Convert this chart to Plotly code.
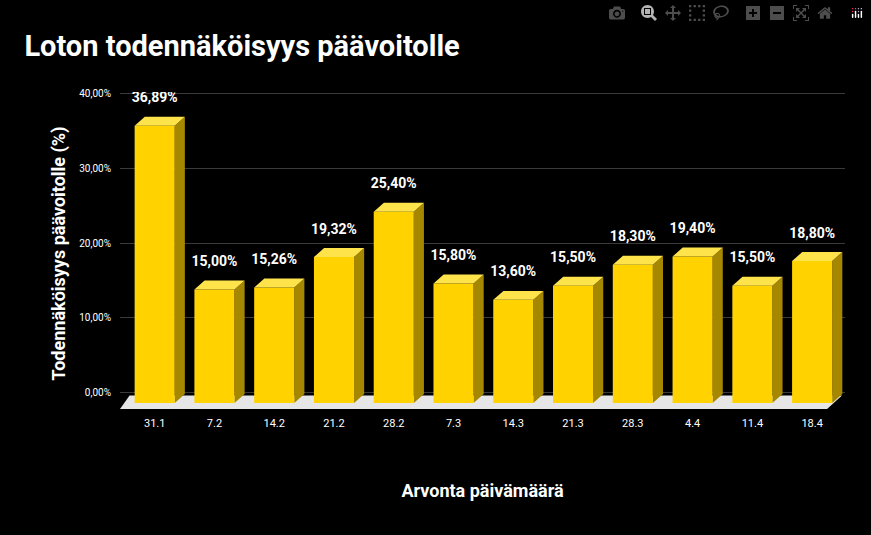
import plotly.graph_objects as go

dates = ["31.1", "7.2", "14.2", "21.2", "28.2", "7.3", "14.3", "21.3", "28.3", "4.4", "11.4", "18.4"]
values = [36.89, 15.00, 15.26, 19.32, 25.40, 15.80, 13.60, 15.50, 18.30, 19.40, 15.50, 18.80]
yticks = [0, 10, 20, 30, 40]
ytick_labels = ["0,00%", "10,00%", "20,00%", "30,00%", "40,00%"]

W = 0.67      # front face width
DX = 0.17     # depth offset in x
DY = 1.2      # depth offset in y
BASE = -1.4   # front bottom

def polys(pts_list):
    xs, ys = [], []
    for pts in pts_list:
        for px, py in pts + [pts[0]]:
            xs.append(px)
            ys.append(py)
        xs.append(None)
        ys.append(None)
    return xs, ys

fronts, sides, tops = [], [], []
for i, v in enumerate(values):
    l, r = i - W / 2, i + W / 2
    t = v - DY
    fronts.append([(l, BASE), (r, BASE), (r, t), (l, t)])
    sides.append([(r, BASE), (r, t), (r + DX, t + DY), (r + DX, BASE + DY)])
    tops.append([(l, t), (r, t), (r + DX, t + DY), (l + DX, t + DY)])

fig = go.Figure()

# floor
fx, fy = polys([[(-0.58, -2.2), (11.25, -2.2), (11.5, -0.4), (-0.42, -0.4)]])
fig.add_trace(go.Scatter(x=fx, y=fy, fill="toself", fillcolor="#e6e6e6",
                         line=dict(width=0), mode="lines", hoverinfo="skip"))

for pts, col in [(sides, "#a68800"), (fronts, "#ffd200"), (tops, "#ffe34a")]:
    xs, ys = polys(pts)
    fig.add_trace(go.Scatter(x=xs, y=ys, fill="toself", fillcolor=col,
                             line=dict(width=0), mode="lines", hoverinfo="skip"))

fig.add_trace(go.Scatter(
    x=list(range(len(values))), y=[v + 2.4 for v in values], mode="text",
    text=[f"{v:.2f}%".replace(".", ",") for v in values],
    textfont=dict(color="white", size=14, family="Roboto", weight="bold"),
    hoverinfo="skip"))

fig.update_layout(
    width=871, height=535,
    paper_bgcolor="black", plot_bgcolor="black",
    showlegend=False,
    margin=dict(l=120, r=26, t=92, b=120),
    font=dict(family="Roboto", color="white"),
    title=dict(text="<b>Loton todennäköisyys päävoitolle</b>", x=0.028, y=0.915,
               xanchor="left", yanchor="middle", font=dict(size=29, color="white")),
    xaxis=dict(range=[-0.58, 11.55], tickvals=list(range(len(dates))), ticktext=dates,
               showgrid=False, zeroline=False, showline=False,
               tickfont=dict(size=11, color="white"),
               title=dict(text="<b>Arvonta päivämäärä</b>", font=dict(size=18), standoff=55)),
    yaxis=dict(range=[-3, 40.2], tickvals=yticks, ticktext=ytick_labels,
               gridcolor="#3a3a3a", zeroline=False, showline=False,
               tickfont=dict(size=10, color="white"), ticklen=6, ticks="outside", tickcolor="black",
               title=dict(text="<b>Todennäköisyys päävoitolle (%)</b>", font=dict(size=18), standoff=8)),
)

fig.write_html("out.html", post_script="document.body.style.margin='0';document.body.style.background='black';")
